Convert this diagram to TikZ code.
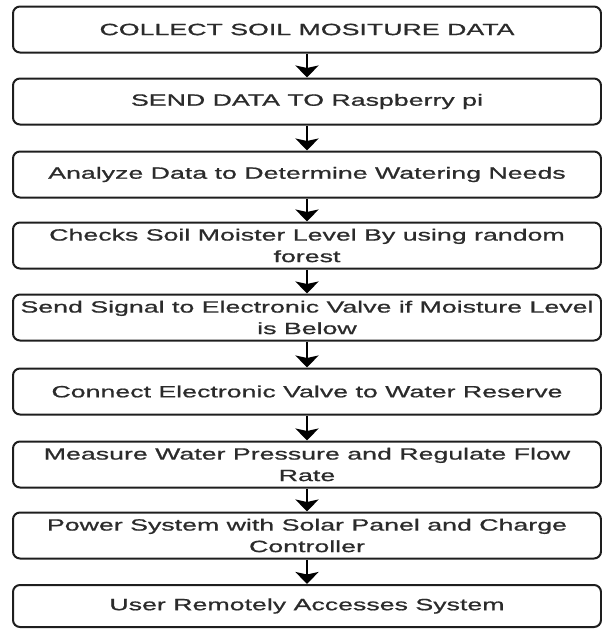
\documentclass[tikz,border=0pt]{standalone}
\usepackage{fontspec}
\setmainfont{Liberation Sans}[FakeStretch=1.64,FakeBold=0.9]
\usetikzlibrary{arrows.meta}
\definecolor{txt}{HTML}{2B2B2B}
\definecolor{edge}{HTML}{1E1E1E}
\begin{document}
\begin{tikzpicture}[x=1pt,y=-1pt,
  box/.style={draw=edge, line width=2pt, rounded corners=7pt,
    minimum width=588pt, minimum height=46pt, inner sep=0pt,
    align=center, text=txt, font=\fontsize{16.3}{21.5}\selectfont},
  arr/.style={draw=black, line width=2.6pt,
    -{Stealth[length=12pt,width=23pt,inset=2.5pt]}}]
\useasboundingbox (0,0) rectangle (602,629);
\node[box] (b1) at (307,29.5) {COLLECT SOIL MOSITURE DATA};
\node[box] (b2) at (307,101.5) {SEND DATA TO Raspberry pi};
\node[box] (b3) at (307,174.5) {Analyze Data to Determine Watering Needs};
\node[box] (b4) at (307,245.5) {Checks Soil Moister Level By using random\\forest};
\node[box] (b5) at (307,317.5) {Send Signal to Electronic Valve if Moisture Level\\is Below};
\node[box] (b6) at (307,391.5) {Connect Electronic Valve to Water Reserve};
\node[box] (b7) at (307,464.5) {Measure Water Pressure and Regulate Flow\\Rate};
\node[box] (b8) at (307,535.5) {Power System with Solar Panel and Charge\\Controller};
\node[box, minimum height=42pt] (b9) at (307,606) {User Remotely Accesses System};
\foreach \a/\b in {b1/b2,b2/b3,b3/b4,b4/b5,b5/b6,b6/b7,b7/b8,b8/b9}
  \draw[arr] (\a.south) -- (\b.north);
\end{tikzpicture}
\end{document}
